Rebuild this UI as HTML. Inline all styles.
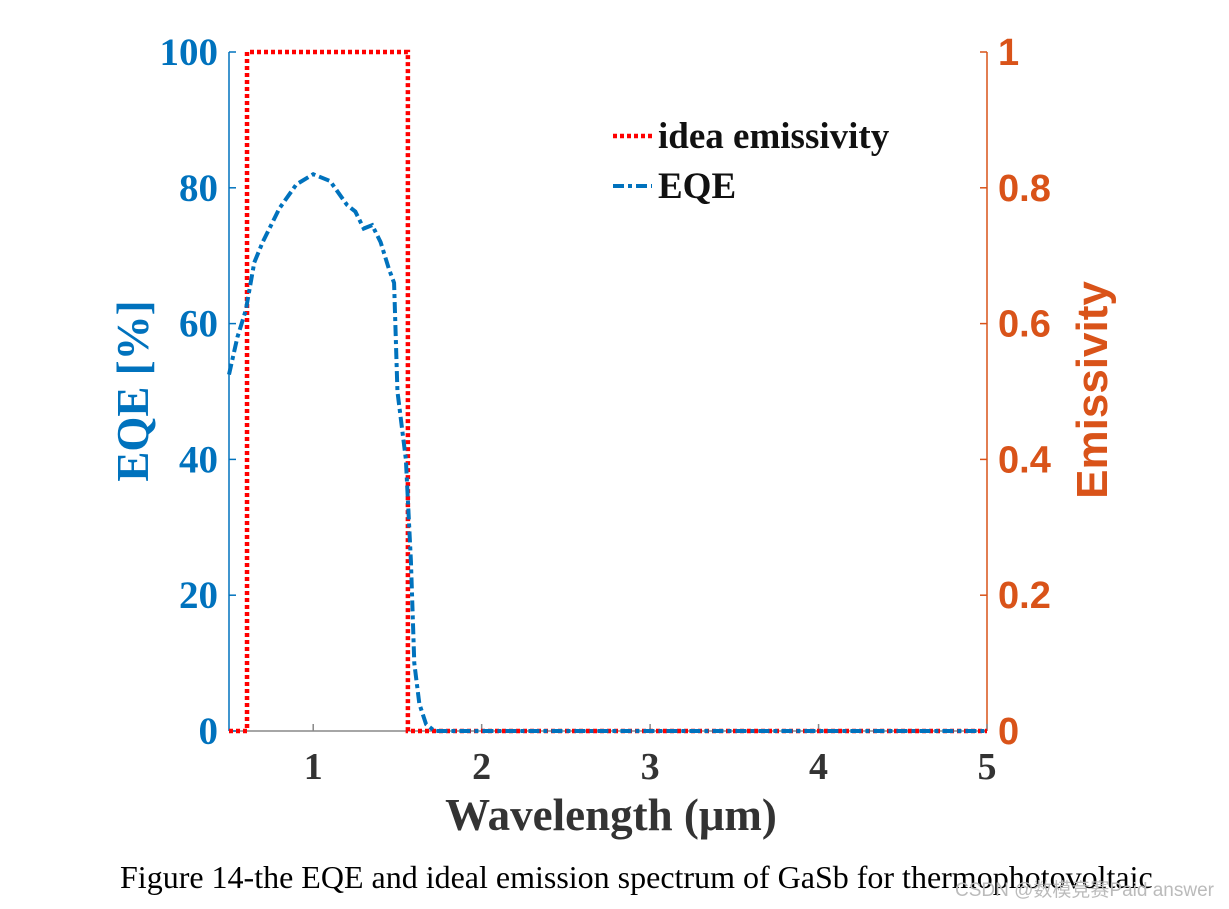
<!DOCTYPE html>
<html><head><meta charset="utf-8"><style>
body{margin:0;background:#fff;width:1229px;height:909px;overflow:hidden}
svg{display:block}
</style></head><body>
<svg id="chart" width="1229" height="909" xmlns="http://www.w3.org/2000/svg">
<g id="axes"></g><g id="series"></g>
<g>
<line x1="613" y1="136" x2="652" y2="136" stroke="#ff0000" stroke-width="4.5" stroke-dasharray="4,3"/>
<text x="658" y="148" font-family="Liberation Serif" font-weight="bold" font-size="37" fill="#111">idea emissivity</text>
<line x1="613" y1="186" x2="652" y2="186" stroke="#0072BD" stroke-width="4" stroke-dasharray="11,4,4,4"/>
<text x="658" y="198" font-family="Liberation Serif" font-weight="bold" font-size="37" fill="#111">EQE</text>
</g>
<text x="611" y="830" text-anchor="middle" font-family="Liberation Serif" font-weight="bold" font-size="45" fill="#333">Wavelength (μm)</text>
<text transform="translate(148,391) rotate(-90)" text-anchor="middle" font-family="Liberation Serif" font-weight="bold" font-size="45" fill="#0072BD">EQE [%]</text>
<text transform="translate(1107,390) rotate(-90)" text-anchor="middle" font-family="Liberation Sans" font-weight="bold" font-size="44" fill="#D95319">Emissivity</text>
<text x="120" y="888" font-family="Liberation Serif" font-size="32" fill="#000">Figure 14-the EQE and ideal emission spectrum of GaSb for thermophotovoltaic</text>
<text x="955" y="896" font-family="Liberation Sans" font-size="19" fill="#bbb">CSDN @数模竞赛Paid answer</text>
</svg>
<script>
const xTicks=[1,2,3,4,5];
const yLeftTicks=[0,20,40,60,80,100];
const yRightTicks=["0","0.2","0.4","0.6","0.8","1"];
const eqeWl=[0.5,0.55,0.6,0.65,0.7,0.8,0.9,1.0,1.1,1.2,1.25,1.3,1.35,1.4,1.45,1.48,1.5,1.55,1.58,1.6,1.63,1.67,1.72,2,3,4,5];
const eqeVal=[52.5,58,62,69,72,77,80.5,82,81,77.5,76.5,74,74.5,72,68,66,50,40,25,10,4,1,0,0,0,0,0];
const emWl=[0.5,0.607,0.607,1.562,1.562,5];
const emVal=[0,0,1,1,0,0];
const L=229,R=987,T=52,B=731;
const sx=v=>L+(v-0.5)/(4.5)*(R-L);
const sy=v=>B-v/100*(B-T);
const sy2=v=>B-v*(B-T);
const NS="http://www.w3.org/2000/svg";
const ax=document.getElementById('axes'),se=document.getElementById('series');
function mk(p,tag,a,txt){const e=document.createElementNS(NS,tag);for(const k in a)e.setAttribute(k,a[k]);if(txt!==undefined)e.textContent=txt;p.appendChild(e);return e;}
let e;
e=mk(ax,'line',{x1:L,y1:B,x2:R,y2:B,stroke:'#888','stroke-width':1.5});


e=mk(ax,'line',{x1:L,y1:T,x2:L,y2:B,stroke:'#0072BD','stroke-width':1.5});


e=mk(ax,'line',{x1:R,y1:T,x2:R,y2:B,stroke:'#D95319','stroke-width':1.5});


xTicks.forEach(t=>{const x=sx(t);
mk(ax,'line',{x1:x,y1:B,x2:x,y2:B-7,stroke:'#888','stroke-width':1.5});
e=mk(ax,'text',{x:x,y:B+48,'text-anchor':'middle','font-family':'Liberation Serif','font-weight':'bold','font-size':38,fill:'#333'},String(t));

});
yLeftTicks.forEach(t=>{const y=sy(t);
mk(ax,'line',{x1:L,y1:y,x2:L+7,y2:y,stroke:'#0072BD','stroke-width':1.5});
e=mk(ax,'text',{x:L-11,y:y+13,'text-anchor':'end','font-family':'Liberation Serif','font-weight':'bold','font-size':39,fill:'#0072BD'},String(t));

});
yRightTicks.forEach(t=>{const y=sy2(parseFloat(t));
mk(ax,'line',{x1:R,y1:y,x2:R-7,y2:y,stroke:'#D95319','stroke-width':1.5});
e=mk(ax,'text',{x:R+11,y:y+13,'font-family':'Liberation Sans','font-weight':'bold','font-size':38,fill:'#D95319'},t);

});
e=mk(se,'polyline',{points:emWl.map((w,i)=>sx(w)+','+sy2(emVal[i])).join(' '),fill:'none',stroke:'#ff0000','stroke-width':4.5,'stroke-dasharray':'4,3'});


e=mk(se,'polyline',{points:eqeWl.map((w,i)=>sx(w)+','+sy(eqeVal[i])).join(' '),fill:'none',stroke:'#0072BD','stroke-width':4,'stroke-dasharray':'11,4,4,4'});


</script>
</body></html>
